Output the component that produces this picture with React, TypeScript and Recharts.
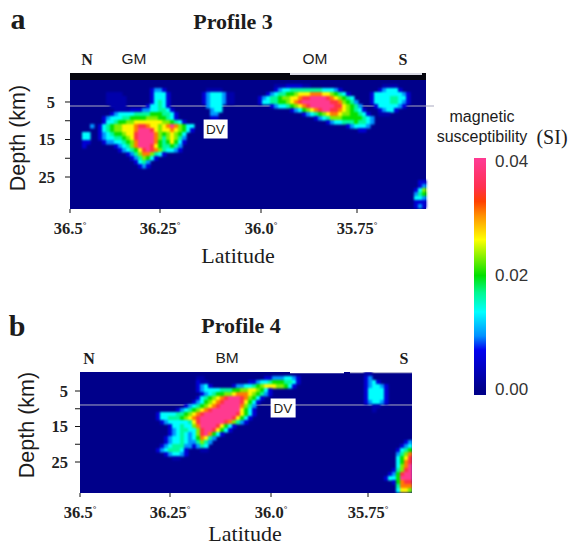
import React from "react";
import {
  ScatterChart, Scatter, BarChart, Bar, XAxis, YAxis, ReferenceArea, ReferenceLine,
} from "recharts";

// each patch: [grid row, first column, levels], one hex digit per cell, see levelValues
// digit B is the faint haze just above the background
type Patch = [number, number, string];

const levelValues = [0, 0.005, 0.0095, 0.0135, 0.0165, 0.02, 0.023, 0.0265, 0.031, 0.035, 0.04, 0.0022];
const CELL = 4;

const latLabels = ["36.5", "36.25", "36.0", "35.75"];
const latColsA = [0, 22.5, 47.75, 71.75];
const latColsB = [0, 22.5, 47.75, 72];
const depthTicks = [5, 10, 15, 20, 25];

const rampValues = [0, 0.0068, 0.0093, 0.0135, 0.0169, 0.0199, 0.0262, 0.0304, 0.0329, 0.0354, 0.04];
const rampColors = ["#00008a", "#0000f0", "#0090ff", "#00ffff", "#00f890", "#00e000", "#ffff00", "#ff9000", "#ff4000", "#ff3050", "#ff3a90"];
const legendTicks = [0, 0.02, 0.04];

const gmPatches: Patch[] = [
  [2, 20, "1221"],
  [3, 9, "BBBB"], [3, 20, "13331"],
  [4, 9, "BBBBB"], [4, 20, "13331"],
  [5, 9, "BBBBB"], [5, 20, "13431"],
  [6, 10, "BBBB"], [6, 19, "133431"],
  [7, 11, "BBBB"], [7, 15, "11122334431"],
  [8, 10, "12333344445554431"],
  [9, 8, "1233344555566655431"],
  [10, 8, "133455667777777665431"],
  [11, 5, "2"], [11, 7, "134566777899877678A86533"],
  [12, 7, "1345667778AAA97677876531"],
  [13, 3, "33"], [13, 7, "1234556779AAAA86567653"],
  [14, 3, "33"], [14, 7, "1233445679AAAA86467642"],
  [15, 3, "11"], [15, 8, "122334568AAAA85457531"],
  [16, 3, "1"], [16, 11, "123468AAA97544542"],
  [17, 12, "1234579A98643321"],
  [18, 14, "1246886431"],
  [19, 15, "1246531"],
  [20, 16, "1342"],
  [21, 17, "121"],
];

const dvColumnPatches: Patch[] = [
  [2, 34, "BBBB"],
  [3, 33, "123332"], [3, 39, "BB"],
  [4, 33, "123332"], [4, 39, "BB"],
  [5, 33, "123332"], [5, 39, "BB"],
  [6, 34, "2333"],
  [7, 35, "233"],
  [8, 35, "22"],
  [9, 35, "11"],
];

const omPatches: Patch[] = [
  [1, 51, "BBB1111BB"],
  [2, 51, "12334444444433321"],
  [3, 49, "123445567778887765431"],
  [4, 47, "1234456677899AAAA9876543"],
  [5, 47, "13344556789AAAAAAA9986542"],
  [6, 50, "1233456789AAAAAA9976542"],
  [7, 55, "12356789AA998765431"],
  [8, 58, "12345678876655431"],
  [9, 61, "123466655555432"],
  [10, 64, "123344454432"],
  [11, 69, "123332"],
  [12, 72, "11"],
];

const southBlobPatches: Patch[] = [
  [1, 78, "BBBB"],
  [2, 77, "123331"],
  [3, 75, "1333333321"],
  [4, 75, "1333344331"],
  [5, 75, "1333344321"],
  [6, 76, "13333321"],
  [7, 77, "12331"],
  [8, 77, "BBB"],
  [25, 87, "11"],
  [26, 87, "12"],
  [27, 86, "136"],
  [28, 86, "245"],
  [29, 86, "332"],
  [30, 86, "111"],
  [31, 86, "121"],
];

const bmPatches: Patch[] = [
  [1, 29, "BB"], [1, 46, "112223321"],
  [2, 29, "1BB"], [2, 42, "1123345554431"],
  [3, 29, "1231"], [3, 38, "1223345677766531"],
  [4, 29, "1233334445566776531"],
  [5, 30, "123455667888765421"],
  [6, 29, "13456789AAA986531"],
  [7, 28, "12356789AAAA97531"],
  [8, 26, "123456789AAAAA8642"],
  [9, 24, "123456789AAAAAAA7531"],
  [10, 19, "133334456789AAAAAAAA97531"],
  [11, 19, "13344456789AAAAAAAA97531"],
  [12, 20, "1233333479AAAAAA986421"],
  [13, 22, "13343368AAAA97531"],
  [14, 22, "123443369AA97531"],
  [15, 22, "123432369A8531"],
  [16, 21, "1233432358742"],
  [17, 21, "123343224642"],
  [18, 20, "123444221243"],
  [19, 19, "12344431"], [19, 30, "BB"],
  [20, 21, "123321"],
  [21, 23, "BB"],
];

const edgePatches: Patch[] = [
  [0, 71, "BB"],
  [1, 71, "12"],
  [2, 71, "1231"],
  [3, 71, "123321"],
  [4, 71, "133331"],
  [5, 71, "133331"],
  [6, 71, "133331"],
  [7, 71, "123321"],
  [8, 73, "BB"],
  [9, 73, "B"],
  [17, 81, "12"],
  [18, 80, "123"],
  [19, 79, "1345"],
  [20, 79, "2468"],
  [21, 79, "3579"],
  [22, 79, "3589"],
  [23, 79, "368A"],
  [24, 78, "1469A"],
  [25, 77, "1259AA"],
  [26, 76, "1335AAA"],
  [27, 78, "15899"],
  [28, 79, "4888"],
  [29, 79, "3776"],
];

function hexToRgb(hex: string) {
  return [1, 3, 5].map(i => parseInt(hex.slice(i, i + 2), 16));
}

function colorFor(v: number) {
  let i = 0;
  while (i < rampValues.length - 2 && v > rampValues[i + 1]) i++;
  const t = Math.min(1, (v - rampValues[i]) / (rampValues[i + 1] - rampValues[i]));
  const a = hexToRgb(rampColors[i]);
  const b = hexToRgb(rampColors[i + 1]);
  return `rgb(${a.map((c, k) => Math.round(c + (b[k] - c) * t)).join(",")})`;
}

function buildCells(patches: Patch[], gridTop: number, rowStep: number) {
  return patches.flatMap(([row, col, levels]) =>
    [...levels].map((ch, i) => ({
      col: col + i + 0.5,
      depth: gridTop + (row + 0.5) * rowStep,
      value: levelValues[parseInt(ch, 16)],
    }))
  );
}

const HeatCell = (props: any) => (
  <rect
    x={props.cx - CELL / 2}
    y={props.cy - CELL / 2}
    width={CELL + 0.5}
    height={CELL + 0.5}
    fill={colorFor(props.payload.value)}
  />
);

const LatTick = (labelCols: number[]) => (props: any) => {
  const idx = labelCols.indexOf(props.payload.value);
  return (
    <text x={props.x} y={props.y + 19} textAnchor="middle" style={cs.tick}>
      {latLabels[idx]}
      <tspan dy={-6} fontSize={9}>°</tspan>
    </text>
  );
};

interface PanelProps {
  cells: ReturnType<typeof buildCells>;
  colDomain: number;
  dataCols: number;
  depthDomain: [number, number];
  latCols: number[];
  top: number;
  marginTop: number;
  plotLeft: number;
  plotHeight: number;
  linedepth: number;
  tickSize: number;
  tickMargin: number;
  children?: React.ReactNode;
}

function Panel({ cells, colDomain, dataCols, depthDomain, latCols, top, marginTop, plotLeft, plotHeight, linedepth, tickSize, tickMargin, children }: PanelProps) {
  return (
    <div className="heat" style={{ position: "absolute", left: 0, top }}>
      <ScatterChart
        width={plotLeft + colDomain * CELL}
        height={marginTop + plotHeight + 30}
        margin={{ top: marginTop, right: 0, bottom: 0, left: 0 }}
      >
        <XAxis
          type="number" dataKey="col" domain={[0, colDomain]} ticks={latCols} interval={0}
          allowDataOverflow height={30} axisLine={false} tickSize={4}
          tickLine={{ stroke: "#111" }} tick={LatTick(latCols)}
        />
        <YAxis
          type="number" dataKey="depth" reversed domain={depthDomain} ticks={depthTicks} interval={0}
          allowDataOverflow width={plotLeft} axisLine={false} tickSize={tickSize} tickMargin={tickMargin}
          tickLine={{ stroke: "#111" }} tick={cs.yTick as any}
          tickFormatter={v => (v % 10 === 5 ? String(v) : "")}
        />
        <ReferenceArea x1={0} x2={dataCols} y1={depthDomain[0]} y2={depthDomain[1]} fill="#00008a" fillOpacity={1} stroke="none" />
        {children}
        <Scatter data={cells} shape={HeatCell} isAnimationActive={false} />
        <ReferenceLine y={linedepth} stroke="#a9a9c0" strokeWidth={1} />
      </ScatterChart>
    </div>
  );
}

function Tag({ x, y, style, children }: { x: number; y: number; style: React.CSSProperties; children: React.ReactNode }) {
  return (
    <span style={{ position: "absolute", left: x, top: y, transform: "translate(-50%,-50%)", whiteSpace: "nowrap", ...style }}>
      {children}
    </span>
  );
}

const domainA: [number, number] = [-2.733, 33.533];
const domainB: [number, number] = [-0.352, 33.73];
const cellsA = buildCells([...gmPatches, ...dvColumnPatches, ...omPatches, ...southBlobPatches], -0.867, CELL / 3.75);
const cellsB = buildCells([...bmPatches, ...edgePatches], -0.352, CELL / 3.55);

const LEGEND_LOW = -0.00105;
const LEGEND_HIGH = 0.0405;
const legendData = [{ name: "SI", range: [LEGEND_LOW, LEGEND_HIGH] }];

export default function App() {
  return (
    <div style={cs.page}>
      <style>{".heat .recharts-scatter { filter: blur(0.8px); }"}</style>

      <Panel
        cells={cellsA} colDomain={91} dataCols={89} depthDomain={domainA} latCols={latColsA}
        top={60} marginTop={13} plotLeft={70} plotHeight={136} linedepth={6.07} tickSize={5} tickMargin={10}
      >
        <ReferenceArea x1={0} x2={89} y1={-2.733} y2={-0.867} fill="#05050f" fillOpacity={1} stroke="none" />
        <ReferenceArea x1={55} x2={88} y1={-2.733} y2={-2.2} fill="#d8d8e4" fillOpacity={1} stroke="none" />
      </Panel>

      <Panel
        cells={cellsB} colDomain={83} dataCols={83} depthDomain={domainB} latCols={latColsB}
        top={350} marginTop={22} plotLeft={80} plotHeight={121} linedepth={8.94} tickSize={5} tickMargin={7}
      >
        <ReferenceArea x1={52.5} x2={66} y1={-0.352} y2={0} fill="#ffffff" fillOpacity={1} stroke="none" />
        <ReferenceArea x1={67.5} x2={83} y1={-0.352} y2={0} fill="#b4b4d0" fillOpacity={1} stroke="none" />
      </Panel>

      <div style={{ position: "absolute", left: 460, top: 148 }}>
        <BarChart width={100} height={257} data={legendData} margin={{ top: 10, right: 0, bottom: 10, left: 8 }}>
          <defs>
            <linearGradient id="susc" x1="0" y1="1" x2="0" y2="0">
              {rampValues.map((v, i) => (
                <stop key={v} offset={(v - LEGEND_LOW) / (LEGEND_HIGH - LEGEND_LOW)} stopColor={rampColors[i]} />
              ))}
            </linearGradient>
          </defs>
          <XAxis dataKey="name" hide />
          <YAxis
            orientation="right" width={68} domain={[LEGEND_LOW, LEGEND_HIGH]} ticks={legendTicks} interval={0}
            allowDataOverflow axisLine={false} tickLine={false} tickSize={0} tickMargin={3}
            tick={cs.legendTick as any} tickFormatter={v => v.toFixed(2)}
          />
          <Bar dataKey="range" fill="url(#susc)" barSize={12} isAnimationActive={false} />
        </BarChart>
      </div>

      <Tag x={18} y={19} style={cs.panelLetter}>a</Tag>
      <Tag x={17} y={326} style={cs.panelLetter}>b</Tag>
      <Tag x={233} y={22} style={cs.title}>Profile 3</Tag>
      <Tag x={241} y={326} style={cs.title}>Profile 4</Tag>

      <Tag x={87} y={60} style={cs.compass}>N</Tag>
      <Tag x={134} y={59} style={cs.region}>GM</Tag>
      <Tag x={315} y={59} style={cs.region}>OM</Tag>
      <Tag x={403} y={60} style={cs.compass}>S</Tag>
      <Tag x={89} y={359} style={cs.compass}>N</Tag>
      <Tag x={227} y={358} style={cs.region}>BM</Tag>
      <Tag x={404} y={359} style={cs.compass}>S</Tag>

      <Tag x={215.5} y={129} style={cs.dv}>DV</Tag>
      <Tag x={283} y={408} style={cs.dv}>DV</Tag>

      <Tag x={18} y={138} style={cs.depth}>Depth (km)</Tag>
      <Tag x={27} y={425} style={cs.depth}>Depth (km)</Tag>
      <Tag x={238} y={256} style={cs.latitude}>Latitude</Tag>
      <Tag x={245} y={534} style={cs.latitude}>Latitude</Tag>

      <Tag x={482} y={117} style={cs.legendTitle}>magnetic</Tag>
      <Tag x={482} y={137} style={cs.legendTitle}>susceptibility</Tag>
      <Tag x={552} y={137} style={cs.si}>(SI)</Tag>
    </div>
  );
}

const serif = "'Liberation Serif', serif";
const sans = "'Liberation Sans', sans-serif";

const cs: Record<string, any> = {
  page: { position: "absolute", left: 0, top: 0, width: 569, height: 545, overflow: "hidden", background: "#fff", color: "#1c1c1c" },
  tick: { fontFamily: serif, fontWeight: 700, fontSize: 16.5, fill: "#222" },
  yTick: { fontFamily: serif, fontWeight: 700, fontSize: 16.5, fill: "#222" },
  legendTick: { fontFamily: sans, fontSize: 17, fill: "#333", transform: "translateX(-5px)" },
  panelLetter: { fontFamily: serif, fontWeight: 700, fontSize: 30 },
  title: { fontFamily: serif, fontWeight: 700, fontSize: 22 },
  compass: { fontFamily: serif, fontWeight: 700, fontSize: 16 },
  region: { fontFamily: sans, fontSize: 15.5 },
  dv: { fontFamily: sans, fontSize: 13.5, background: "#fff", padding: "2px 3px", lineHeight: "15px" },
  depth: { fontFamily: sans, fontSize: 21.5, transform: "translate(-50%,-50%) rotate(-90deg)" },
  latitude: { fontFamily: serif, fontSize: 22 },
  legendTitle: { fontFamily: sans, fontSize: 16 },
  si: { fontFamily: serif, fontSize: 20 },
};
